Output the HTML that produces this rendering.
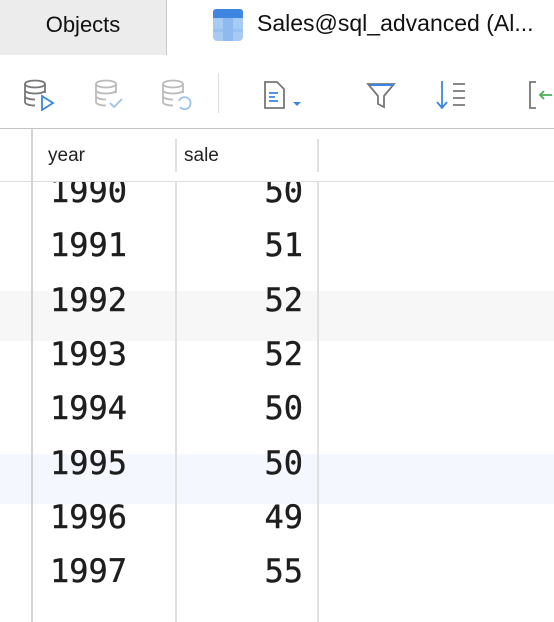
<!DOCTYPE html>
<html><head><meta charset="utf-8"><style>
body{margin:0;width:554px;height:622px;overflow:hidden;background:#fff;position:relative;font-family:"Liberation Sans",sans-serif}
.abs{position:absolute}
.mono{font-family:"DejaVu Sans Mono","Liberation Mono",monospace;font-size:32px;color:#1e1e1e;line-height:1;-webkit-text-stroke:0.4px #1e1e1e}
</style></head><body>
<div class="abs" style="left:0;top:0;width:166px;height:55px;background:#ececec;border-right:1px solid #c8c8c8;font-size:22px;color:#111;line-height:50px;text-align:center">Objects</div>
<div class="abs" style="left:167px;top:0;width:387px;height:55px;background:#fff">
 <svg class="abs" style="left:46px;top:9px" width="30" height="32" viewBox="0 0 30 32"><rect x="0" y="0" width="30" height="32" rx="4" fill="#a8cbf3"/><rect x="0" y="0" width="30" height="8" rx="3" fill="#3f86e0"/><rect x="0" y="4" width="30" height="5" fill="#3f86e0"/><rect x="10" y="9" width="10" height="23" fill="#8ebaf0"/><rect x="0" y="20" width="30" height="3" fill="#8ebaf0" opacity=".6"/></svg>
 <div class="abs" style="left:90px;top:10px;font-size:23px;color:#111;white-space:nowrap">Sales@sql_advanced (Al...</div>
</div>
<div class="abs" style="left:0;top:55px;width:554px;height:73px;border-bottom:1px solid #c4c4c4">
 <svg class="abs" style="left:22px;top:24px" width="36" height="32"><g fill="none" stroke="#777" stroke-width="1.8"><ellipse cx="13" cy="5" rx="10" ry="3.5"/><path d="M3 5v18c0 2 4 3.5 10 3.5M23 5v9M3 11c0 2 4 3.5 10 3.5s10-1.5 10-3.5M3 17c0 2 4 3.5 10 3.5"/></g><path d="M20 17l11 7-11 7z" fill="none" stroke="#3a86e0" stroke-width="1.8"/></svg>
 <svg class="abs" style="left:93px;top:24px" width="36" height="32"><g fill="none" stroke="#bbb" stroke-width="1.8"><ellipse cx="13" cy="5" rx="10" ry="3.5"/><path d="M3 5v18c0 2 4 3.5 10 3.5M23 5v9M3 11c0 2 4 3.5 10 3.5s10-1.5 10-3.5M3 17c0 2 4 3.5 10 3.5"/></g><path d="M17 24l4 4 8-8" fill="none" stroke="#9cc3ef" stroke-width="1.8"/></svg>
 <svg class="abs" style="left:160px;top:24px" width="36" height="32"><g fill="none" stroke="#bbb" stroke-width="1.8"><ellipse cx="13" cy="5" rx="10" ry="3.5"/><path d="M3 5v18c0 2 4 3.5 10 3.5M23 5v9M3 11c0 2 4 3.5 10 3.5s10-1.5 10-3.5M3 17c0 2 4 3.5 10 3.5"/></g><path d="M19 22a6 6 0 1 1 1 6" fill="none" stroke="#9cc3ef" stroke-width="1.8"/></svg>
 <div class="abs" style="left:218px;top:18px;width:1px;height:40px;background:#ddd"></div>
 <svg class="abs" style="left:263px;top:24px" width="40" height="32"><path d="M2 3h12l7 7v19H2z" fill="none" stroke="#777" stroke-width="1.8"/><path d="M6 14h9M6 18h6M6 22h9" stroke="#3a86e0" stroke-width="1.8"/><path d="M30 23h8l-4 4z" fill="#3a86e0"/></svg>
 <svg class="abs" style="left:366px;top:26px" width="32" height="30"><path d="M2 3h26l-10 12v11l-6-3v-8z" fill="none" stroke="#777" stroke-width="1.8"/><path d="M3 4h24" stroke="#3a86e0" stroke-width="2"/></svg>
 <svg class="abs" style="left:436px;top:24px" width="36" height="32"><path d="M6 2v26M1 23l5 6 5-6" fill="none" stroke="#3a86e0" stroke-width="1.8"/><path d="M17 5h12M17 12h12M17 19h12M17 26h12" stroke="#777" stroke-width="1.8"/></svg>
 <svg class="abs" style="left:526px;top:24px" width="28" height="32"><path d="M10 3H4v26h6" fill="none" stroke="#777" stroke-width="1.8"/><path d="M26 16h-12M18 12l-4 4 4 4" fill="none" stroke="#4caf50" stroke-width="1.8"/></svg>
</div>
<div id="grid" class="abs" style="left:0;top:129px;width:554px;height:493px;overflow:hidden"></div>
<script>
const years=[1990,1991,1992,1993,1994,1995,1996,1997];
const sales=[50,51,52,52,50,50,49,55];
const g=document.getElementById('grid');
const pitch=54.3, top0=178-129;
years.forEach((y,i)=>{
 if(i===2||i===5){
  const s=document.createElement('div');
  
  
  s.className='abs';
  s.style.cssText=`left:0;top:${top0+i*pitch+4}px;width:554px;height:50px;background:${i===2?'#f7f7f7':'#f4f8fe'}`;
  g.appendChild(s);
 }
});
years.forEach((y,i)=>{
 const t=document.createElement('div');
 
 
 t.className='abs mono';
 t.style.cssText=`left:50px;top:${top0+i*pitch-3}px`;
 t.textContent=y;g.appendChild(t);
 const v=document.createElement('div');
 
 
 v.className='abs mono';
 v.style.cssText=`right:${554-303}px;top:${top0+i*pitch-3}px;text-align:right`;
 v.textContent=sales[i];g.appendChild(v);
});
</script>
<div class="abs" style="left:0;top:129px;width:554px;height:52px;background:#fff;border-bottom:1px solid #ddd"></div>
<div class="abs" style="left:48px;top:145px;font-size:19px;color:#222">year</div>
<div class="abs" style="left:184px;top:145px;font-size:19px;color:#222">sale</div>
<div class="abs" style="left:31px;top:129px;width:2px;height:493px;background:#d4d4d4"></div>
<div class="abs" style="left:175px;top:139px;width:2px;height:33px;background:#e0e0e0"></div>
<div class="abs" style="left:317px;top:139px;width:2px;height:33px;background:#e0e0e0"></div>
<div class="abs" style="left:175px;top:182px;width:2px;height:440px;background:#e0e0e0"></div>
<div class="abs" style="left:317px;top:182px;width:2px;height:440px;background:#e0e0e0"></div>
</body></html>
